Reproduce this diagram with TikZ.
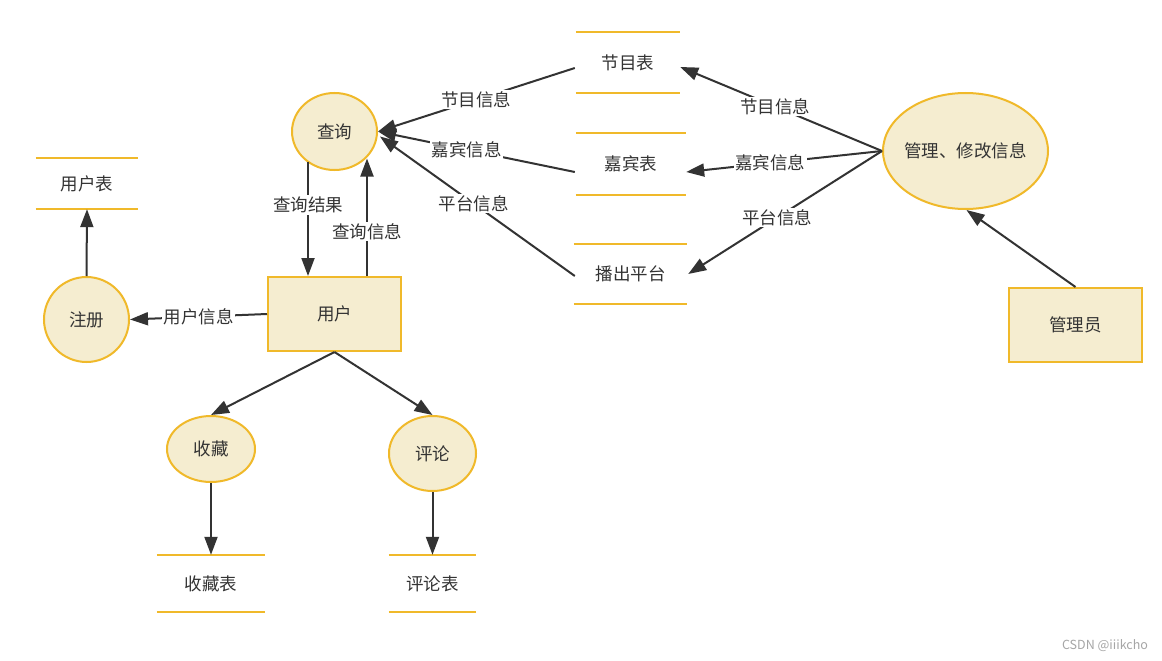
\documentclass[tikz,border=0pt]{standalone}
\usepackage{fontspec}
\setmainfont{Noto Sans CJK SC}
\usetikzlibrary{shapes.geometric,arrows.meta,calc}
\definecolor{fillc}{HTML}{F5EDD0}
\definecolor{linec}{HTML}{F0B92A}
\definecolor{ink}{HTML}{333333}
\begin{document}
\begin{tikzpicture}[x=1pt,y=-1pt,
  font=\fontsize{17.5}{21}\selectfont, text=ink,
  proc/.style={ellipse, draw=linec, fill=fillc, line width=2pt, inner sep=0pt},
  ent/.style={rectangle, draw=linec, fill=fillc, line width=2pt, inner sep=0pt},
  store/.style={rectangle, inner sep=0pt},
  sline/.style={draw=linec, line width=2pt},
  flow/.style={draw=ink, line width=2pt, -{Triangle[length=18pt,width=13pt]}},
  lab/.style={fill=white, inner sep=1.5pt}]
\fill[white] (0,0) rectangle (1162,661);
\useasboundingbox (0,0) rectangle (1162,661);

\node[proc,minimum width=85,minimum height=77] (cx) at (334.5,131.5) {查询};
\node[ent,minimum width=133,minimum height=74] (yh) at (334.5,314) {用户};
\node[proc,minimum width=85,minimum height=85] (zc) at (86.5,319.5) {注册};
\node[store,minimum width=102,minimum height=51] (yhb) at (87,183.5) {用户表};
\node[store,minimum width=104,minimum height=61] (jmb) at (628,62.5) {节目表};
\node[store,minimum width=110,minimum height=62] (jbb) at (631,164) {嘉宾表};
\node[store,minimum width=113,minimum height=60] (bc) at (630.5,274) {播出平台};
\node[proc,inner xsep=-6pt,minimum width=165,minimum height=116] (gl) at (965.5,151) {管理、修改信息};
\node[ent,minimum width=133,minimum height=74] (gly) at (1075.5,325) {管理员};
\node[proc,minimum width=88,minimum height=66] (sc) at (211,449) {收藏};
\node[proc,minimum width=87,minimum height=75] (pl) at (432.5,453.5) {评论};
\node[store,minimum width=108,minimum height=57] (scb) at (211,583.5) {收藏表};
\node[store,minimum width=87,minimum height=57] (plb) at (432.5,583.5) {评论表};

\foreach \n in {yhb,jmb,jbb,bc,scb,plb}
  \draw[sline] (\n.north west) -- (\n.north east) (\n.south west) -- (\n.south east);

\draw[flow] (zc.north) -- (yhb.south);
\draw[flow] (yh.west) -- node[lab]{用户信息} (zc.east);
\draw[flow] ($(cx.center)+(-26.5,30)$) -- node[lab,pos=0.38]{查询结果} ($(yh.north)+(-26.5,0)$);
\draw[flow] ($(yh.north)+(32.5,0)$) -- node[lab,pos=0.38]{查询信息} ($(cx.center)+(32.5,27)$);

\draw[flow] (gl.west) -- node[lab,pos=0.53]{节目信息} ($(jmb.east)+(0,4.5)$);
\draw[flow] (gl.west) -- node[lab,pos=0.57]{嘉宾信息} ($(jbb.east)+(0,8)$);
\draw[flow] (gl.west) -- node[lab,pos=0.54]{平台信息} ($(bc.east)+(1,0)$);
\draw[flow] (gly.north) -- ($(gl.south)+(1,0)$);

\draw[flow] ($(jmb.west)+(-1,5.5)$) -- node[lab,pos=0.5]{节目信息} (cx.east);
\draw[flow] ($(jbb.west)+(-1,8)$) -- node[lab,pos=0.55]{嘉宾信息} (cx.east);
\draw[flow] ($(bc.west)+(1,2)$) -- node[lab,pos=0.52]{平台信息} ($(cx.east)+(2,5)$);

\draw[flow] (yh.south) -- (sc.north);
\draw[flow] (yh.south) -- (pl.north);
\draw[flow] (sc.south) -- (scb.north);
\draw[flow] (pl.south) -- (plb.north);

\node[text=gray!70, font=\fontsize{12.5}{14}\selectfont] (wm) at (1105,646) {CSDN @iiikcho};
\end{tikzpicture}
\end{document}
